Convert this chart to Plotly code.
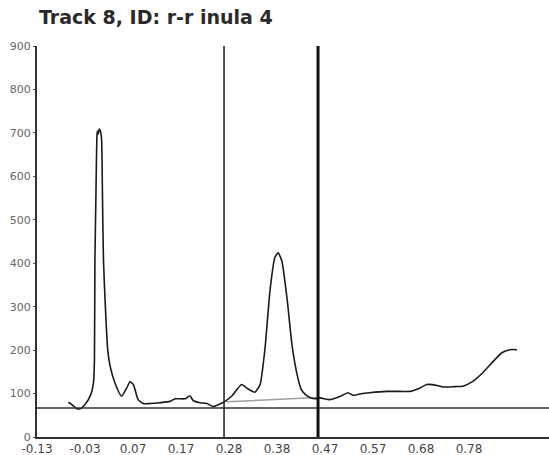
import plotly.graph_objects as go

# ---- data ----
rf = [-0.064, -0.057, -0.046, -0.039, -0.029, -0.018, -0.011, -0.009, -0.008, -0.006,
      -0.004, -0.003, -0.001, 0.001, 0.003, 0.006, 0.008, 0.010, 0.014, 0.019,
      0.024, 0.034, 0.048, 0.059, 0.066, 0.073, 0.083, 0.094, 0.108, 0.129,
      0.150, 0.161, 0.182, 0.192, 0.199, 0.213, 0.228, 0.241, 0.253, 0.266,
      0.281, 0.301, 0.314, 0.329, 0.340, 0.350, 0.361, 0.371, 0.378, 0.386,
      0.397, 0.407, 0.417, 0.426, 0.435, 0.445, 0.456, 0.466, 0.487, 0.508,
      0.525, 0.536, 0.550, 0.571, 0.607, 0.635, 0.656, 0.677, 0.691, 0.715,
      0.725, 0.750, 0.767, 0.788, 0.809, 0.831, 0.849, 0.866, 0.881]
intensity = [80, 75, 65, 65, 75, 94, 125, 178, 408, 547,
             686, 704, 697, 709, 706, 686, 547, 408, 300, 200,
             163, 125, 94, 113, 127, 121, 86, 77, 77, 79,
             82, 88, 88, 95, 84, 79, 77, 70, 75, 82,
             95, 121, 111, 103, 121, 201, 339, 413, 424, 404,
             316, 213, 148, 111, 98, 91, 88, 90, 86, 93,
             102, 96, 99, 102, 105, 105, 105, 113, 121, 118,
             115, 116, 117, 128, 148, 174, 194, 201, 201]

baseline_rf = [0.270, 0.459]
baseline_val = [81, 91]

hline_value = 67
front_lines = [0.264, 0.462]

tick_text = ["-0.13", "-0.03", "0.07", "0.17", "0.28", "0.38", "0.47", "0.57", "0.68", "0.78"]
tick_start = -0.13
tick_step = 0.10111
tick_vals = [tick_start + i * tick_step for i in range(len(tick_text))]

y_ticks = list(range(0, 1000, 100))

FONT = "DejaVu Sans, Verdana, sans-serif"

fig = go.Figure()

fig.add_trace(go.Scatter(x=baseline_rf, y=baseline_val, mode="lines",
                         line=dict(color="#a0a0a0", width=1.5), hoverinfo="skip",
                         showlegend=False))
fig.add_trace(go.Scatter(x=rf, y=intensity, mode="lines",
                         line=dict(color="#1a1a1a", width=1.6, shape="spline", smoothing=0.5),
                         showlegend=False))

# horizontal reference line
fig.add_shape(type="line", xref="paper", yref="y", x0=0, x1=1,
              y0=hline_value, y1=hline_value,
              line=dict(color="#333333", width=1.5))
# vertical front lines
fig.add_shape(type="line", xref="x", yref="paper", x0=front_lines[0], x1=front_lines[0],
              y0=0, y1=1, line=dict(color="#2a2a2a", width=1.6))
fig.add_shape(type="line", xref="x", yref="paper", x0=front_lines[1], x1=front_lines[1],
              y0=0, y1=1, line=dict(color="#111111", width=3))

fig.update_layout(
    width=549, height=455,
    margin=dict(l=37, r=0, t=46, b=18),
    plot_bgcolor="white", paper_bgcolor="white",
    title=dict(text="Track 8, ID: r-r inula 4", x=0.071, xanchor="left",
               y=0.962, yanchor="middle",
               font=dict(family=FONT, size=19, color="#2a2a2a", weight="bold")),
    xaxis=dict(range=[-0.13, 0.9485], tickmode="array", tickvals=tick_vals,
               ticktext=tick_text, showgrid=False, zeroline=False,
               showline=True, linecolor="#333333", linewidth=2,
               ticks="", ticklen=0,
               tickfont=dict(family=FONT, size=12, color="#444444")),
    yaxis=dict(range=[0, 900], tickmode="array", tickvals=y_ticks,
               showgrid=False, zeroline=False, showline=True,
               linecolor="#333333", linewidth=2, ticks="outside", ticklen=2,
               tickcolor="#555555",
               tickfont=dict(family=FONT, size=11, color="#666666")),
)

fig.write_html("out.html")
